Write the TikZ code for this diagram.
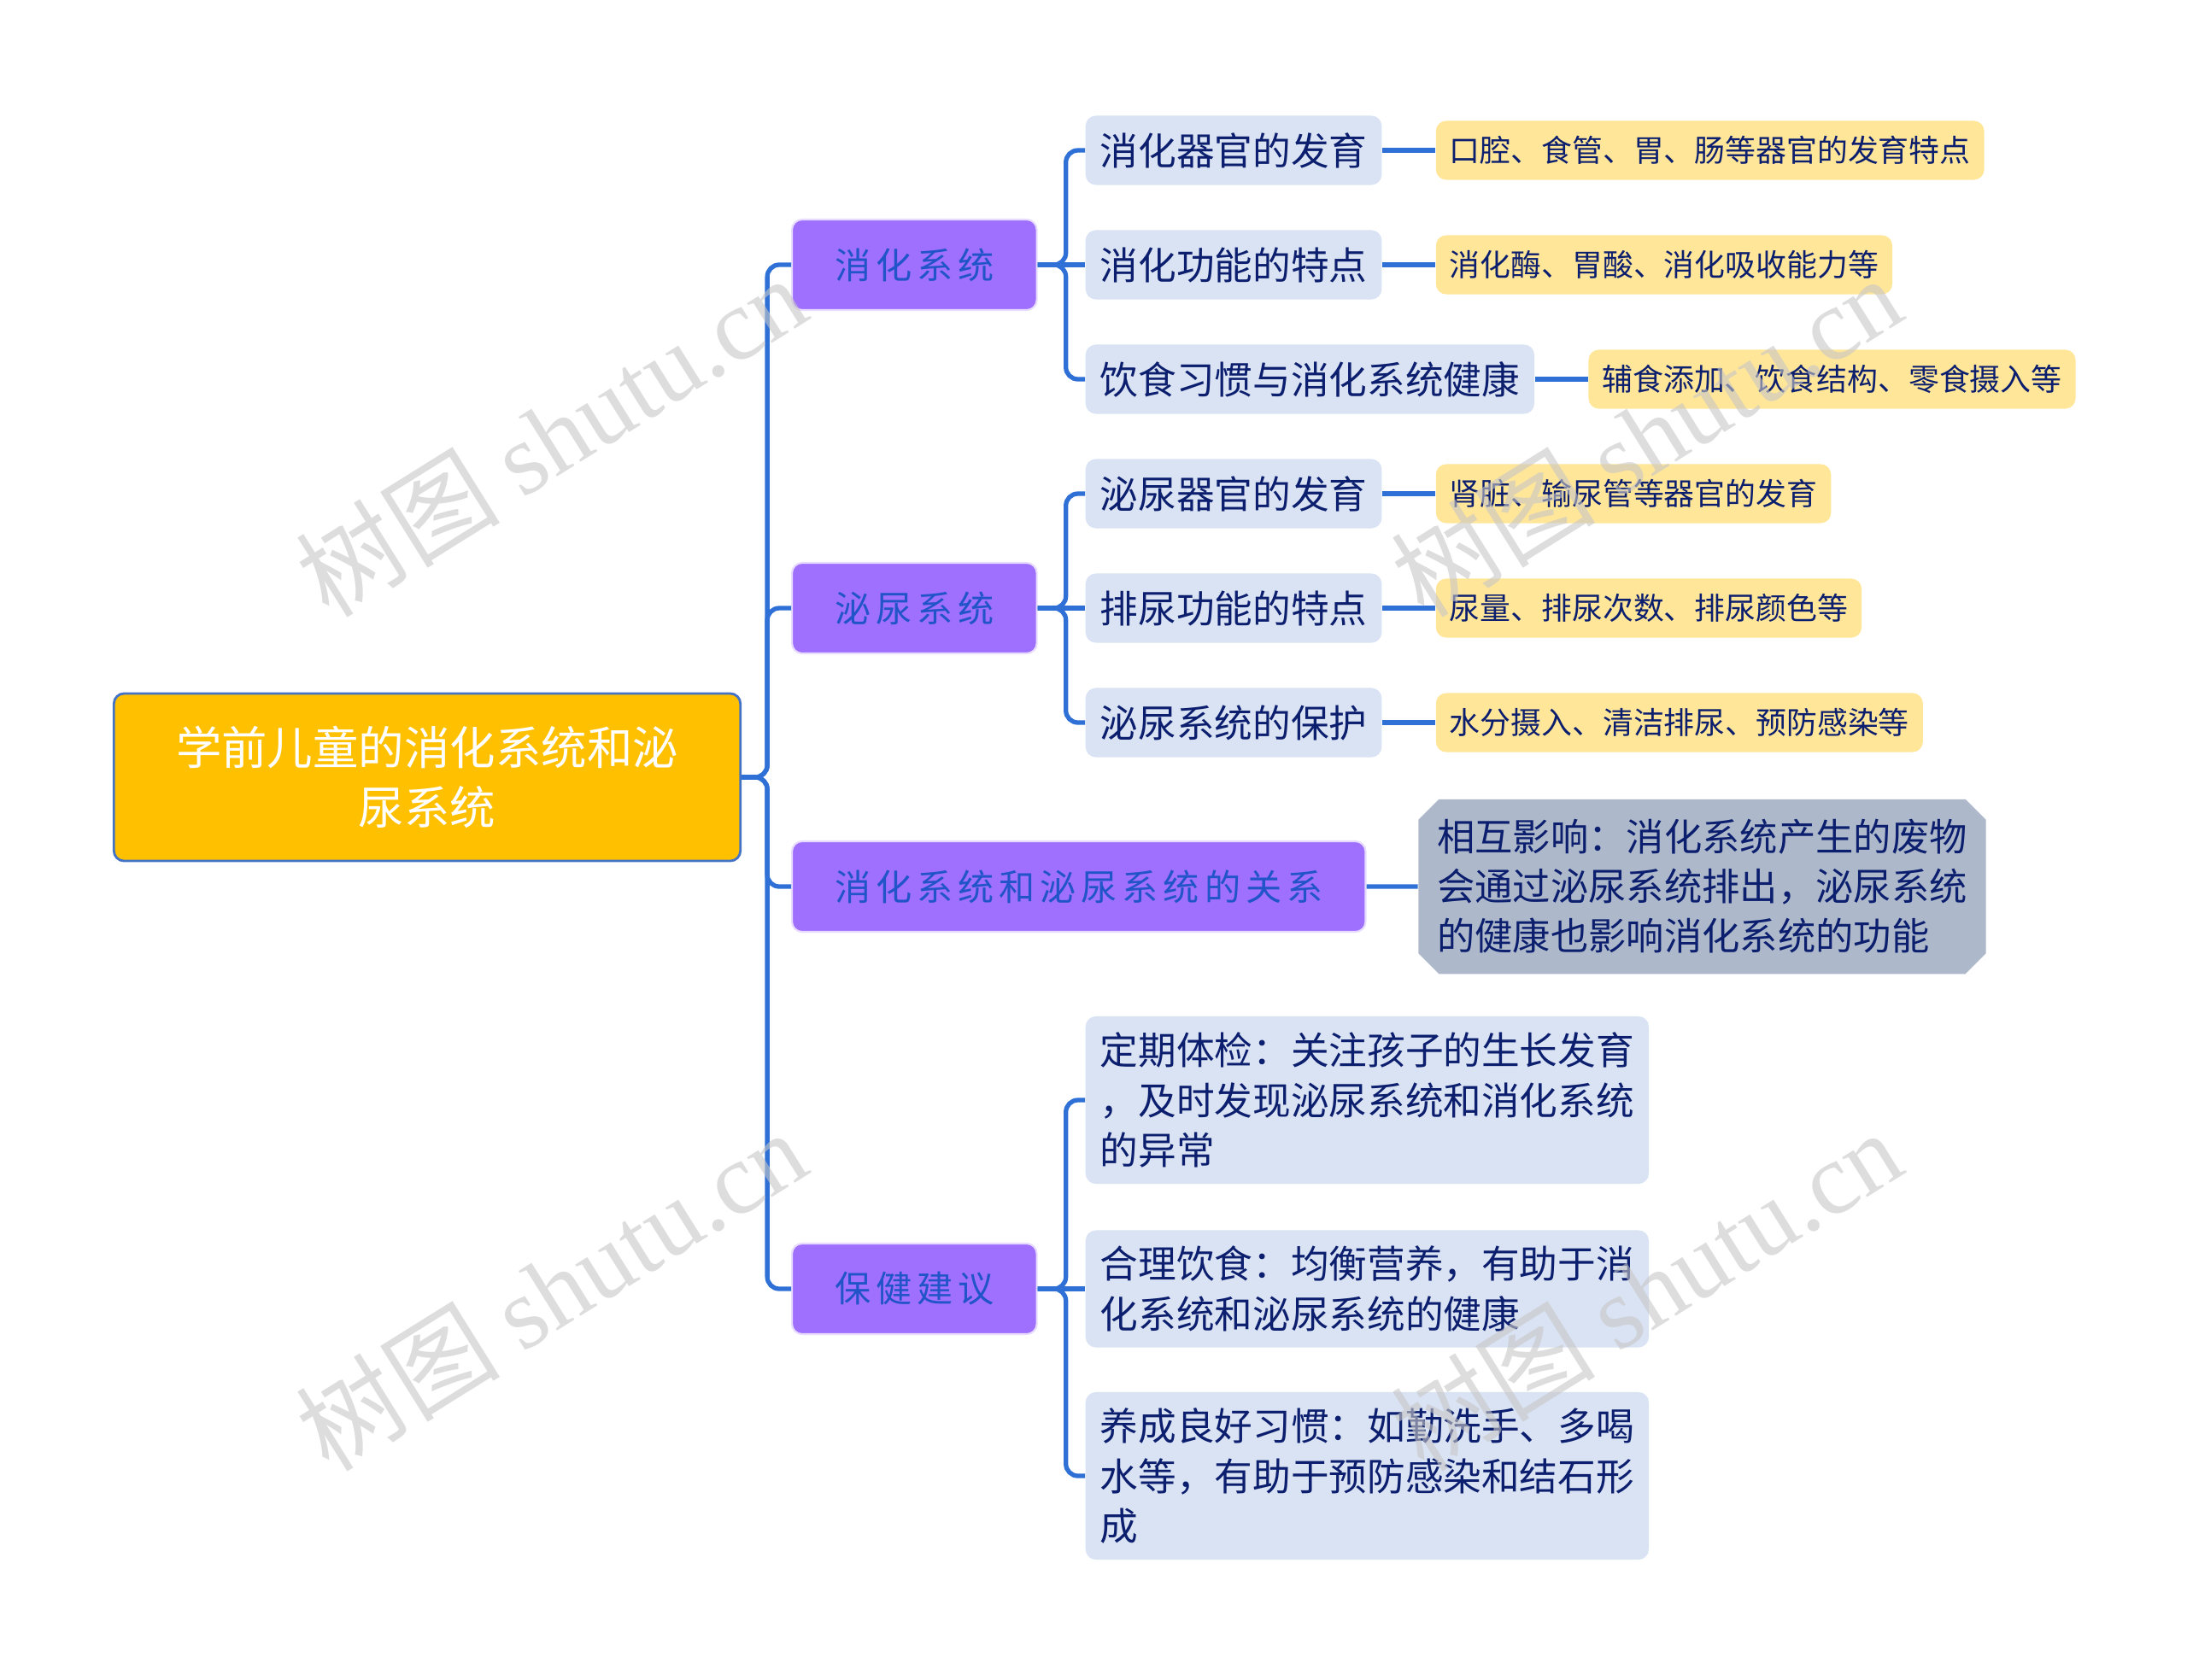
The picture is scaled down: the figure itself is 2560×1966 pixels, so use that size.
\documentclass[tikz,border=0pt]{standalone}
\usepackage{fontspec}
\setmainfont{Noto Sans CJK SC}
\newfontfamily\topicfont[LetterSpace=14]{Noto Sans CJK SC}
\newfontfamily\markfont{Liberation Serif}
\usetikzlibrary{positioning,shapes.misc}

\definecolor{linkblue}{RGB}{46,112,214}
\definecolor{rootfill}{RGB}{255,192,0}
\definecolor{rootedge}{RGB}{68,114,196}
\definecolor{topicfill}{RGB}{159,112,253}
\definecolor{topictext}{RGB}{32,84,200}
\definecolor{subfill}{RGB}{218,227,243}
\definecolor{leaffill}{RGB}{255,230,153}
\definecolor{notefill}{RGB}{173,185,202}
\definecolor{navy}{RGB}{12,30,110}

\tikzset{
  link/.style={draw=linkblue, line width=1.5pt, rounded corners=0.14cm},
  rootbox/.style={draw=rootedge, line width=0.8pt, fill=rootfill, rounded corners=0.12cm,
    text=white, align=center, minimum width=7.33cm, minimum height=1.96cm,
    font=\fontsize{15.2}{20}\selectfont},
  topicbox/.style={fill=topicfill, draw=topicfill!25!white, line width=0.6pt, rounded corners=0.12cm,
    text=topictext, minimum height=1.06cm, inner xsep=0.5cm,
    font=\topicfont\fontsize{12}{14}\selectfont},
  subbox/.style={fill=subfill, rounded corners=0.12cm, text=navy,
    minimum height=0.81cm, inner xsep=0.17cm, align=left,
    font=\fontsize{12.7}{16.7}\selectfont},
  leafbox/.style={fill=leaffill, rounded corners=0.12cm, text=navy,
    minimum height=0.69cm, inner xsep=0.16cm,
    font=\fontsize{10.2}{12}\selectfont},
  notebox/.style={chamfered rectangle, chamfered rectangle xsep=0.12cm,
    chamfered rectangle ysep=0.12cm, fill=notefill, text=navy, align=left,
    minimum width=6.58cm, minimum height=1.96cm, inner xsep=0.1cm,
    font=\fontsize{12.6}{16.5}\selectfont},
  watermark/.style={rotate=32, text=black!22, opacity=0.6,
    font=\fontsize{34}{34}\selectfont}
}

\begin{document}
\begin{tikzpicture}[x=0.01cm, y=-0.01cm]
\useasboundingbox (0,0) rectangle (2560,1966);

% root and main topics
\node[rootbox] (root) at (500,910) {学前儿童的消化系统和泌\\尿系统};
\node[topicbox, anchor=west] (digest) at (926,310) {消化系统};
\node[topicbox, anchor=west] (urine) at (926,712) {泌尿系统};
\node[topicbox, anchor=west] (relation) at (926,1038) {消化系统和泌尿系统的关系};
\node[topicbox, anchor=west] (care) at (926,1509) {保健建议};

% digestive system
\node[subbox, anchor=west] (digorgan) at (1270,176) {消化器官的发育};
\node[subbox, anchor=west] (digfunc) at (1270,310) {消化功能的特点};
\node[subbox, anchor=west] (diethabit) at (1270,444) {饮食习惯与消化系统健康};
\node[leafbox, right=0.62cm of digorgan] (digorganleaf) {口腔、食管、胃、肠等器官的发育特点};
\node[leafbox, right=0.62cm of digfunc] (digfuncleaf) {消化酶、胃酸、消化吸收能力等};
\node[leafbox, right=0.62cm of diethabit] (diethabitleaf) {辅食添加、饮食结构、零食摄入等};

% urinary system
\node[subbox, anchor=west] (uriorgan) at (1270,578) {泌尿器官的发育};
\node[subbox, anchor=west] (urifunc) at (1270,712) {排尿功能的特点};
\node[subbox, anchor=west] (uriprotect) at (1270,846) {泌尿系统的保护};
\node[leafbox, right=0.62cm of uriorgan] (uriorganleaf) {肾脏、输尿管等器官的发育};
\node[leafbox, right=0.62cm of urifunc] (urifuncleaf) {尿量、排尿次数、排尿颜色等};
\node[leafbox, right=0.62cm of uriprotect] (uriprotectleaf) {水分摄入、清洁排尿、预防感染等};

% relation
\node[notebox, right=0.6cm of relation] (relnote) {相互影响：消化系统产生的废物\\会通过泌尿系统排出，泌尿系统\\的健康也影响消化系统的功能};

% health care
\node[subbox, anchor=west, minimum width=6.57cm, minimum height=1.96cm] (checkup) at (1270,1288)
  {定期体检：关注孩子的生长发育\\，及时发现泌尿系统和消化系统\\的异常};
\node[subbox, anchor=west, minimum width=6.57cm, minimum height=1.37cm] (diet) at (1270,1509)
  {合理饮食：均衡营养，有助于消\\化系统和泌尿系统的健康};
\node[subbox, anchor=west, minimum width=6.57cm, minimum height=1.96cm] (habit) at (1270,1728)
  {养成良好习惯：如勤洗手、多喝\\水等，有助于预防感染和结石形\\成};

% connectors
\foreach \x in {digest,urine,relation,care}
  \draw[link] (root.east) -- ++(30,0) |- (\x.west);
\foreach \x/\y in {digest/digorgan,digest/diethabit,urine/uriorgan,urine/uriprotect,care/checkup,care/habit}
  \draw[link] (\x.east) -- ++(33,0) |- (\y.west);
\foreach \x/\y in {digest/digfunc,urine/urifunc,care/diet}
  \draw[link] (\x.east) -- (\y.west);
\foreach \x in {digorgan,digfunc,diethabit,uriorgan,urifunc,uriprotect}
  \draw[link] (\x) -- (\x leaf);
\draw[link] (relation) -- (relnote);

% watermarks
\foreach \wx/\wy in {645/510,1927/510,645/1510,1927/1510}
  \node[watermark] (wm-\wx-\wy) at (\wx,\wy) {树图 {\markfont shutu.cn}};

\end{tikzpicture}
\end{document}
